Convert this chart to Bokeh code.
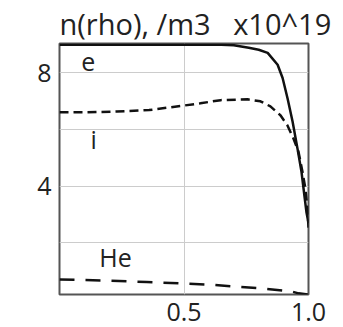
from bokeh.plotting import figure
from bokeh.models import FixedTicker, Title, PrintfTickFormatter
from bokeh.core.properties import value
from bokeh.embed import file_html
from bokeh.resources import INLINE

# electron density (solid)
rho_e = [0.0, 0.3, 0.65, 0.70, 0.76, 0.80, 0.836, 0.876, 0.896, 0.916, 0.936, 0.956, 0.972, 0.984, 0.992, 1.0]
n_e = [9.0, 9.0, 9.0, 8.98, 8.89, 8.82, 8.71, 8.29, 7.82, 7.10, 6.29, 5.32, 4.50, 3.64, 3.07, 2.7]

# ion density (dashed)
rho_i = [0.0, 0.1, 0.23, 0.36, 0.5, 0.566, 0.647, 0.755, 0.807, 0.847, 0.888, 0.916, 0.94, 0.96, 0.976, 0.988, 0.996, 1.0]
n_i = [6.61, 6.61, 6.64, 6.69, 6.85, 6.93, 7.04, 7.07, 7.0, 6.82, 6.5, 6.14, 5.68, 5.21, 4.5, 3.89, 3.18, 2.54]

# helium density (long dashes)
rho_he = [0.0, 0.2, 0.35, 0.5, 0.6, 0.7, 0.82, 0.93, 0.96, 1.0]
n_he = [0.71, 0.67, 0.62, 0.57, 0.53, 0.46, 0.39, 0.29, 0.22, 0.18]

x_ticks = [0.5, 1.0]
y_ticks = [4, 8]
y_grid = [2, 4, 6, 8]
x_grid = [0.5]

label_text = ["e", "i", "He"]
label_x = [0.116, 0.137, 0.225]
label_y = [8.4, 5.68, 1.5]

title_text = "n(rho),\u00a0/m3\u00a0\u00a0\u00a0x10^19"

FONT = "Open Sans"
TXT = "#222222"

p = figure(width=343, height=327, output_backend="svg", toolbar_location=None,
           x_range=(0.0, 1.0), y_range=(0.18, 9.04),
           min_border_left=59, min_border_right=35, min_border_top=0, min_border_bottom=33)
p.background_fill_color = "white"
p.border_fill_color = "white"
p.outline_line_color = "#555555"
p.outline_line_width = 2

p.add_layout(Title(text=title_text, text_font=FONT, text_font_size="29px",
                   text_color=TXT, text_font_style="normal", align="left",
                   standoff=2), "above")

for ax in (p.xaxis[0], p.yaxis[0]):
    ax.axis_line_color = None
    ax.major_tick_line_color = None
    ax.minor_tick_line_color = None
    ax.major_label_text_font = FONT
    ax.major_label_text_font_size = "25px"
    ax.major_label_text_color = TXT
p.xaxis[0].ticker = FixedTicker(ticks=x_ticks)
p.xaxis[0].formatter = PrintfTickFormatter(format="%.1f")
p.yaxis[0].ticker = FixedTicker(ticks=y_ticks)
p.xaxis[0].major_label_standoff = 2
p.yaxis[0].major_label_standoff = 2

p.xgrid[0].ticker = FixedTicker(ticks=x_grid)
p.ygrid[0].ticker = FixedTicker(ticks=y_grid)
p.xgrid[0].grid_line_color = "#cccccc"
p.ygrid[0].grid_line_color = "#cccccc"

p.line(rho_e, n_e, line_color="#111111", line_width=2.5)
p.line(rho_i, n_i, line_color="#111111", line_width=2.5, line_dash="9 5")
p.line(rho_he, n_he, line_color="#111111", line_width=2.5, line_dash="15 11")

p.text(x=label_x, y=label_y, text=label_text,
       text_font=value(FONT), text_font_size="25px", text_color=TXT,
       text_align="center", text_baseline="alphabetic")

open("out.html", "w").write(file_html(p, INLINE))
